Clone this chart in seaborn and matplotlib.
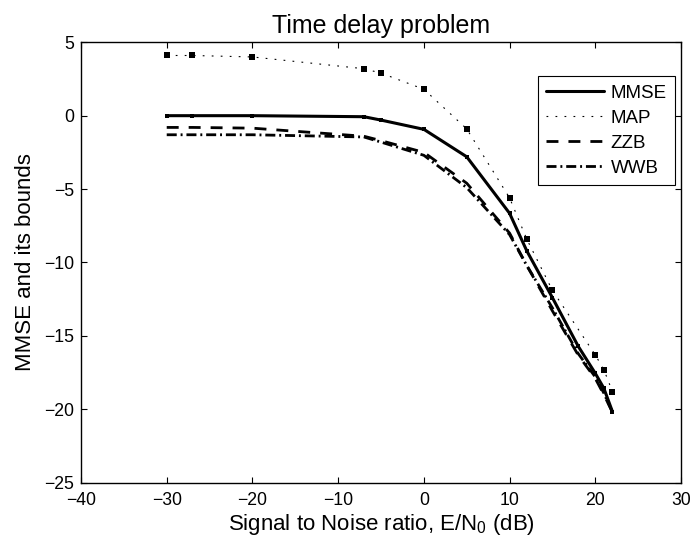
import matplotlib
matplotlib.use("Agg")
import matplotlib.pyplot as plt
from matplotlib.lines import Line2D
import seaborn as sns
import pandas as pd

# ---- data ----
snr = [-30, -27, -20, -7, -5, 0, 5, 10, 12, 15, 18, 20, 21, 22]
mse_mmse = [0.0, 0.0, 0.0, -0.07, -0.3, -0.93, -2.8, -6.65, -9.2, -12.4, -15.7, -17.55, -18.57, -20.16]
mse_zzb = [-0.8, -0.8, -0.85, -1.4, -1.7, -2.5, -4.6, -8.0, -10.2, -13.3, -16.3, -17.9, -19.0, -20.2]
mse_wwb = [-1.3, -1.3, -1.3, -1.45, -1.8, -2.7, -4.9, -8.1, -10.2, -13.1, -16.2, -17.8, -18.9, -20.2]

snr_map = [-30, -27, -20, -7, -5, 0, 5, 10, 12, 15, 20, 21, 22]
mse_map = [4.1, 4.1, 4.0, 3.2, 2.9, 1.8, -0.9, -5.6, -8.4, -11.9, -16.3, -17.3, -18.8]

labels = ["MMSE", "MAP", "ZZB", "WWB"]
title = "Time delay problem"
xlabel = "Signal to Noise ratio, E/N$_0$ (dB)"
ylabel = "MMSE and its bounds"
xticks = [-40, -30, -20, -10, 0, 10, 20, 30]
yticks = [-25, -20, -15, -10, -5, 0, 5]

sns.set_style("ticks")
plt.rcParams['font.family'] = ['Liberation Sans', 'DejaVu Sans']
plt.rcParams['mathtext.fontset'] = 'custom'
plt.rcParams['mathtext.rm'] = 'Liberation Sans'
plt.rcParams['mathtext.it'] = 'Liberation Sans'
for k in ['text.color', 'axes.labelcolor', 'xtick.color', 'ytick.color',
          'axes.edgecolor']:
    plt.rcParams[k] = 'black'

fig = plt.figure(figsize=(6.93, 5.42), dpi=100)
ax = fig.add_axes([0.1169, 0.1094, 0.8658, 0.8126])

df_map = pd.DataFrame({"snr": snr_map, "mse": mse_map})
df_mmse = pd.DataFrame({"snr": snr, "mse": mse_mmse})
df_zzb = pd.DataFrame({"snr": snr, "mse": mse_zzb})
df_wwb = pd.DataFrame({"snr": snr, "mse": mse_wwb})

ls_map = (0, (1.6, 6.5))
ls_zzb = (0, (4.3, 3.6))
ls_wwb = (0, (3.6, 1.4, 0.7, 1.4))

sns.lineplot(data=df_map, x="snr", y="mse", ax=ax, color="black", lw=0.8,
             linestyle=ls_map, marker="s", markersize=5, markeredgewidth=0,
             sort=False, legend=False)
sns.lineplot(data=df_mmse, x="snr", y="mse", ax=ax, color="black", lw=2.2,
             linestyle="-", marker="s", markersize=3.2, markeredgewidth=0,
             sort=False, legend=False)
sns.lineplot(data=df_zzb, x="snr", y="mse", ax=ax, color="black", lw=2.0,
             linestyle=ls_zzb, sort=False, legend=False)
sns.lineplot(data=df_wwb, x="snr", y="mse", ax=ax, color="black", lw=2.0,
             linestyle=ls_wwb, sort=False, legend=False)

ax.set_xlim(-40, 30)
ax.set_ylim(-25, 5)
ax.set_xticks(xticks)
ax.set_yticks(yticks)
ax.set_xticklabels([str(t).replace("-", "\u2212") for t in xticks])
ax.set_yticklabels([str(t).replace("-", "\u2212") for t in yticks])
ax.tick_params(direction="in", top=True, right=True, length=4.5, width=0.8,
               labelsize=12.7, colors="black")
ax.tick_params(axis="x", pad=7)
ax.tick_params(axis="y", pad=5)
for s in ax.spines.values():
    s.set_linewidth(1.0)
    s.set_color("black")

ax.set_title(title, fontsize=18, pad=7, color="black")
ax.set_xlabel(xlabel, fontsize=16, labelpad=2, color="black")
ax.set_ylabel(ylabel, fontsize=16, labelpad=6, color="black")

handles = [
    Line2D([], [], color="black", lw=2.2, linestyle="-"),
    Line2D([], [], color="black", lw=0.8, linestyle=ls_map),
    Line2D([], [], color="black", lw=2.0, linestyle=ls_zzb),
    Line2D([], [], color="black", lw=2.0, linestyle=ls_wwb),
]
leg = ax.legend(handles, labels, loc="upper right", bbox_to_anchor=(0.99, 0.9235),
                fontsize=13.5, frameon=True, fancybox=False, framealpha=1,
                edgecolor="black", handlelength=3.1, handletextpad=0.33,
                borderpad=0.45, labelspacing=0.42, borderaxespad=0)
leg.get_frame().set_linewidth(0.8)
for t in leg.get_texts():
    t.set_color("black")

fig.savefig("out.png", dpi=100)
